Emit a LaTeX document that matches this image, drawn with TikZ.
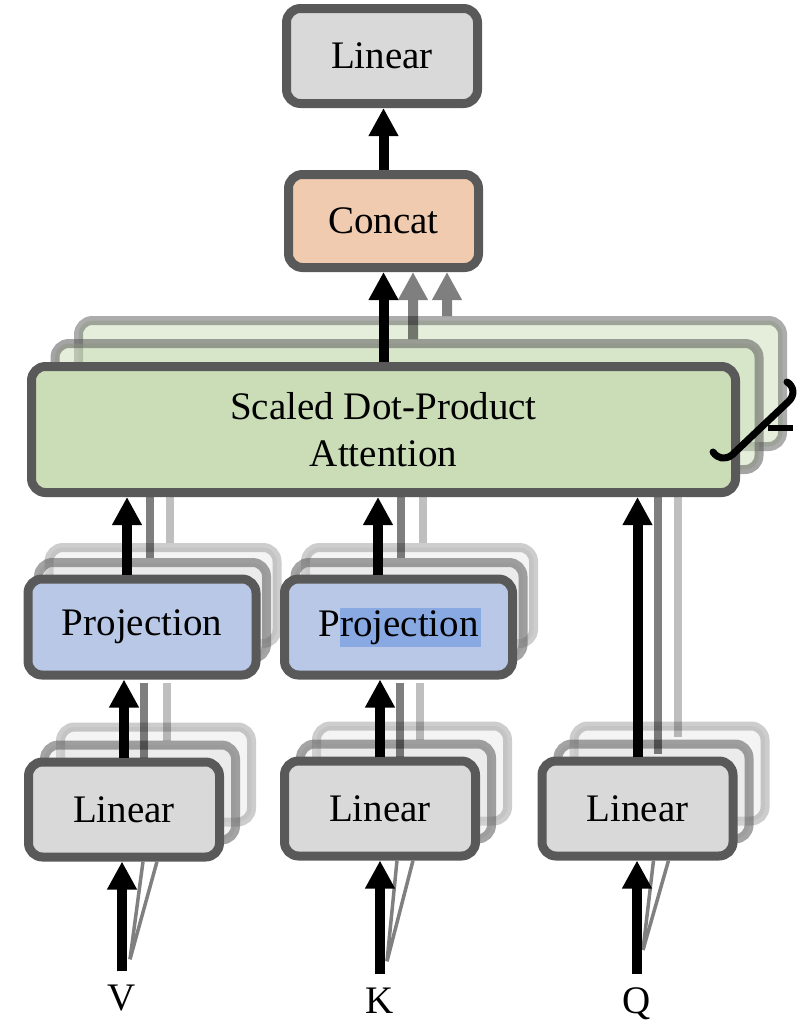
\documentclass[tikz,border=0pt]{standalone}
\usepackage{fontspec}
\setmainfont{Liberation Serif}
\usetikzlibrary{arrows.meta,calc}

\definecolor{boxline}{RGB}{89,89,89}
\definecolor{linfill}{RGB}{217,217,217}
\definecolor{catfill}{RGB}{241,203,176}
\definecolor{attfill}{RGB}{202,221,183}
\definecolor{projfill}{RGB}{184,200,230}
\definecolor{selfill}{RGB}{136,169,226}

\tikzset{
  box/.style={draw=boxline, line width=9pt, rounded corners=14pt, inner sep=0pt,
    font=\fontsize{39}{47}\selectfont},
  linbox/.style={box, fill=linfill, minimum width=191pt, minimum height=95pt},
  catbox/.style={box, fill=catfill, minimum width=190pt, minimum height=93pt},
  attbox/.style={box, fill=attfill, minimum width=704pt, minimum height=126pt, align=center},
  projbox/.style={box, fill=projfill, minimum width=228pt, minimum height=96pt},
  % faded copies standing behind the front boxes
  linback/.style={linbox, draw opacity=#1, fill opacity=0.3},
  projback/.style={box, fill=linfill, minimum width=228pt, minimum height=96pt,
    draw opacity=#1, fill opacity=0.3},
  attback/.style={attbox, draw opacity=#1, fill opacity=0.5},
  arr/.style={line width=10pt, -{Triangle[width=28pt,length=28pt]}},
  ghost/.style={transparency group, opacity=0.5},
  headline/.style={line width=8pt, draw=black, draw opacity=#1},
  fan/.style={line width=3.5pt, draw=black!50},
  inlabel/.style={font=\fontsize{39}{47}\selectfont, inner sep=0pt, anchor=base},
}

\begin{document}
\begin{tikzpicture}[x=1pt,y=-1pt]
\useasboundingbox (0,0) rectangle (800,1036);
\setlength{\fboxsep}{0pt}

% ---------- attention stack ----------
\node[attback=0.5] (att2) at (430.5,383.5) {};
\node[attback=0.55] (att1) at (407,406.5) {};

% ---------- projection stacks (back copies) ----------
\node[projback=0.3]  (projV2) at (163,595.5) {};
\node[projback=0.55] (projV1) at (152.5,610.5) {};
\node[projback=0.3]  (projK2) at (419.5,595.5) {};
\node[projback=0.55] (projK1) at (409,610.5) {};

% ---------- linear stacks (back copies) ----------
\node[linback=0.3]  (linV2) at (156,774.5) {};
\node[linback=0.55] (linV1) at (140,792.5) {};
\node[linback=0.3]  (linK2) at (412,773.5) {};
\node[linback=0.55] (linK1) at (396,791.5) {};
\node[linback=0.3]  (linQ2) at (669.5,773.5) {};
\node[linback=0.55] (linQ1) at (653.5,791.5) {};

% ---------- front boxes ----------
\node[linbox] (top) at (382,56) {Linear};
\node[catbox] (concat) at (383.5,221) {Concat};
\node[attbox] (att) at (383.5,429.5) {Scaled Dot-Product\\Attention};
\node[projbox] (projV) at (142,627) {Projection};
% projection box with part of its label highlighted
\node[projbox] (projK) at (398.5,627)
  {P\colorbox{selfill}{\rule[-10pt]{0pt}{39pt}rojection\kern2pt}\kern-2pt};
\node[linbox] (linV) at (124,809.5) {Linear};
\node[linbox] (linK) at (380,808.5) {Linear};
\node[linbox] (linQ) at (637.5,808.5) {Linear};

% ---------- input labels ----------
\node[inlabel] (lblV) at (122,1010) {V};
\node[inlabel] (lblK) at (380,1013) {K};
\node[inlabel] (lblQ) at (637,1013) {Q};

% ---------- faded per-head lines ----------
% V column
\coordinate (vd1) at ($(linV.north)+(20,0)$);
\coordinate (vl1) at ($(linV.north)+(43,0)$);
\coordinate (vd2) at ($(att.south -| linV.north)+(26,0)$);
\coordinate (vl2) at ($(att.south -| linV.north)+(46,0)$);
% K column
\coordinate (kd1) at ($(linK.north)+(20,0)$);
\coordinate (kl1) at ($(linK.north)+(40,0)$);
\coordinate (kd2) at ($(att.south -| linK.north)+(21,0)$);
\coordinate (kl2) at ($(att.south -| linK.north)+(43,0)$);
% Q column
\coordinate (qd) at ($(linQ.north)+(20,0)$);
\coordinate (ql) at ($(linQ.north)+(40,0)$);

\draw[headline=0.5]  ($(projV.south -| vd1)+(0,3)$) -- (linV.north -| vd1);
\draw[headline=0.25] ($(projV.south -| vl1)+(0,3)$) -- (linV1.north -| vl1);
\draw[headline=0.5]  (att.south -| vd2) -- (projV1.north -| vd2);
\draw[headline=0.25] (att.south -| vl2) -- (projV2.north -| vl2);

\draw[headline=0.5]  ($(projK.south -| kd1)+(0,3)$) -- (linK.north -| kd1);
\draw[headline=0.25] ($(projK.south -| kl1)+(0,3)$) -- (linK1.north -| kl1);
\draw[headline=0.5]  (att.south -| kd2) -- (projK1.north -| kd2);
\draw[headline=0.25] (att.south -| kl2) -- (projK2.north -| kl2);

\draw[headline=0.5]  (att.south -| qd) -- ($(linQ.north -| qd)+(0,-3)$);
\draw[headline=0.25] (att.south -| ql) -- ($(linQ1.north -| ql)+(0,-3)$);

% ---------- inputs fanning into the first layer ----------
\coordinate (fV) at ($(lblV.north)+(8,-25)$);
\coordinate (fK) at ($(lblK.north)+(7,-26)$);
\coordinate (fQ) at ($(lblQ.north)+(6,-37)$);
\draw[fan] (fV) -- ($(linV.south)+(19,0)$);
\draw[fan] (fV) -- ($(linV.south)+(33,0)$);
\draw[fan] (fK) -- ($(linK.south)+(17,0)$);
\draw[fan] (fK) -- ($(linK.south)+(33,0)$);
\draw[fan] (fQ) -- ($(linQ.south)+(16,0)$);
\draw[fan] (fQ) -- ($(linQ.south)+(31,0)$);

\draw[arr] ($(lblV.north)+(0,-13)$) -- (linV.south -| lblV.north);
\draw[arr] ($(lblK.north)+(0,-13)$) -- (linK.south -| lblK.north);
\draw[arr] ($(lblQ.north)+(0,-13)$) -- (linQ.south -| lblQ.north);

% ---------- main data path ----------
\coordinate (xV) at (127,0);
\coordinate (xK) at (378,0);
\coordinate (xh1) at (413,0);
\coordinate (xh2) at (447,0);
\draw[arr] (linV.north) -- (projV.south -| linV.north);
\draw[arr] (projV.north -| xV) -- (att.south -| xV);
\draw[arr] (linK.north) -- (projK.south -| linK.north);
\draw[arr] (projK.north -| xK) -- (att.south -| xK);
\draw[arr] (linQ.north) -- (att.south -| linQ.north);
\draw[arr] (att.north) -- (concat.south);
\draw[arr] (concat.north) -- (top.south -| concat.north);

% outputs of the other heads into Concat
\begin{scope}[ghost]
  \draw[arr] (att1.north -| xh1) -- (concat.south -| xh1);
\end{scope}
\begin{scope}[ghost]
  \draw[arr] (att2.north -| xh2) -- (concat.south -| xh2);
\end{scope}

% ---------- head-count mark beside the stack ----------
\draw[line width=7pt, line cap=round, line join=round]
  (713,452) .. controls (718,459) and (725,460) .. (732,455)
  -- (789,401) .. controls (795,395) and (794,386) .. (787,382);
\draw[line width=5.5pt] (768,428) -- (793,428);
\end{tikzpicture}
\end{document}
